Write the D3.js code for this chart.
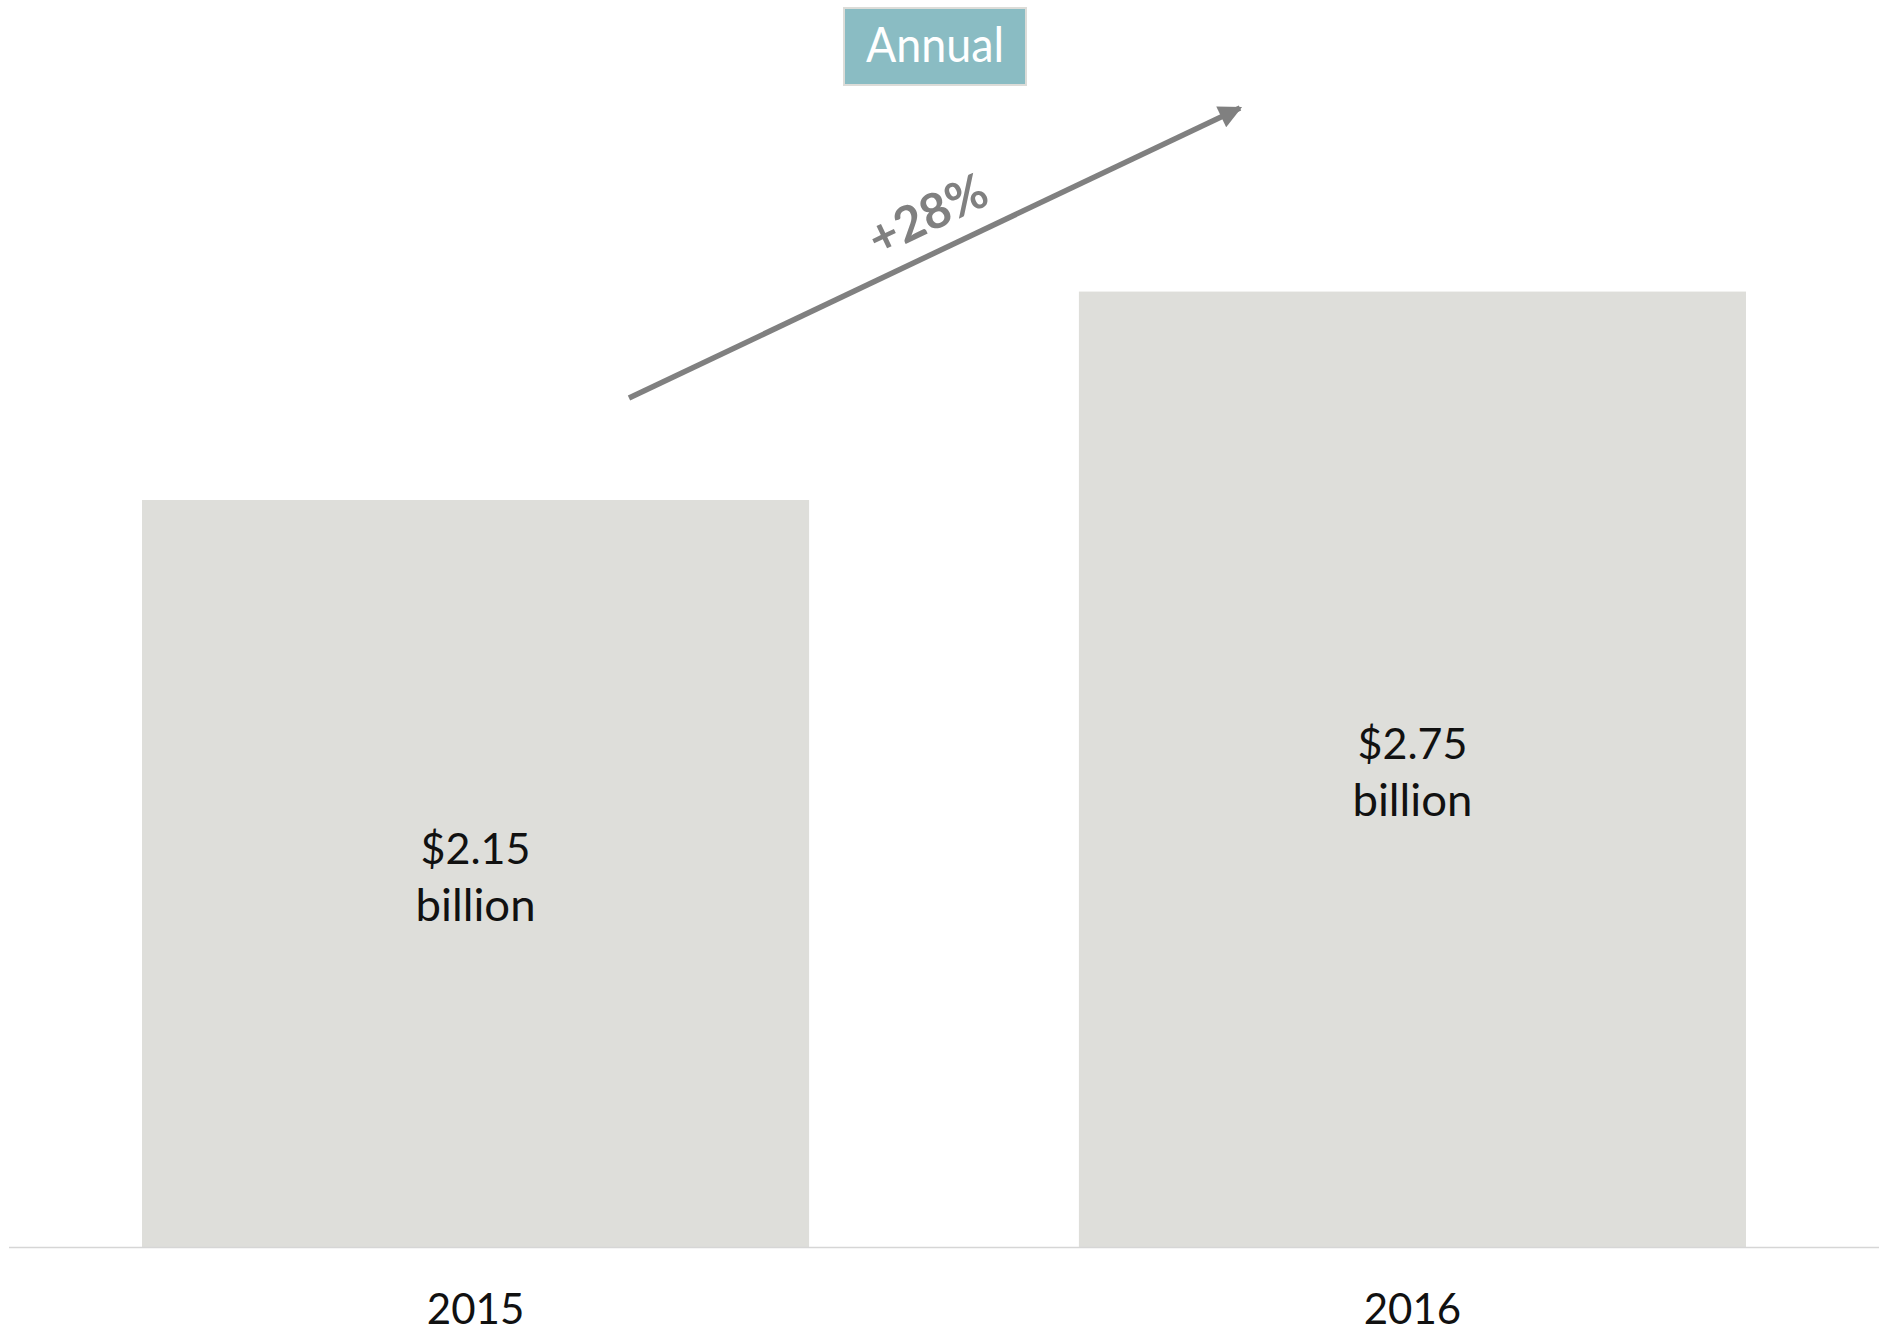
<!DOCTYPE html>
<html>
<head>
<meta charset="utf-8">
<script src="https://cdn.jsdelivr.net/npm/d3@7"></script>
<style>
  html, body { margin: 0; padding: 0; background: #ffffff; }
  svg { display: block; }
</style>
</head>
<body>
<svg id="chart" width="1886" height="1333"></svg>
<script>
// Annual totals, in billions of dollars
const years = ["2015", "2016"];
const values = [2.15, 2.75];
const valueLabels = ["$2.15", "$2.75"];
const unitLabel = "billion";
const growthLabel = "+28%";
const periodLabel = "Annual";

const W = 1886, H = 1333;
const svg = d3.select("#chart");

const x = d3.scaleBand()
  .domain(years)
  .range([142, 1746])
  .paddingInner(0.288)
  .paddingOuter(0);

const y = d3.scaleLinear()
  .domain([0, 3.5])
  .range([1247, 31]);

const data = years.map((yr, i) => ({ year: yr, value: values[i], label: valueLabels[i] }));

// Bars
svg.append("g").selectAll("rect")
  .data(data)
  .join("rect")
  .attr("x", d => x(d.year))
  .attr("y", d => y(d.value))
  .attr("width", x.bandwidth())
  .attr("height", d => y(0) - y(d.value))
  .attr("fill", "#dededa");

// Baseline
svg.append("line")
  .attr("x1", 9).attr("x2", 1879)
  .attr("y1", y(0) + 0.5).attr("y2", y(0) + 0.5)
  .attr("stroke", "#d6d6d6")
  .attr("stroke-width", 1.5);

// Value labels centred in each bar
const lbl = svg.append("g").selectAll("g")
  .data(data)
  .join("g")
  .attr("transform", d => `translate(${x(d.year) + x.bandwidth() / 2},${(y(d.value) + y(0)) / 2})`);

lbl.append("text")
  .attr("text-anchor", "middle")
  .attr("y", -10)
  .attr("font-family", "Lato, 'Open Sans', sans-serif")
  .attr("font-size", 43)
  .attr("fill", "#111111")
  .text(d => d.label);

lbl.append("text")
  .attr("text-anchor", "middle")
  .attr("y", 47)
  .attr("font-family", "Lato, 'Open Sans', sans-serif")
  .attr("font-size", 44)
  .attr("fill", "#111111")
  .attr("textLength", 120)
  .attr("lengthAdjust", "spacingAndGlyphs")
  .text(unitLabel);

// Category axis labels
svg.append("g").selectAll("text")
  .data(years)
  .join("text")
  .attr("x", d => x(d) + x.bandwidth() / 2)
  .attr("y", 1324)
  .attr("text-anchor", "middle")
  .attr("font-family", "Lato, 'Open Sans', sans-serif")
  .attr("font-size", 42)
  .attr("fill", "#111111")
  .text(d => d);

// Period tag
const tag = svg.append("g");
tag.append("rect")
  .attr("x", 844).attr("y", 8)
  .attr("width", 182).attr("height", 77)
  .attr("fill", "#8abcc3")
  .attr("stroke", "#dcdcd8")
  .attr("stroke-width", 2);
tag.append("text")
  .attr("x", 935).attr("y", 62)
  .attr("text-anchor", "middle")
  .attr("font-family", "Lato, 'Open Sans', sans-serif")
  .attr("font-size", 48)
  .attr("fill", "#ffffff")
  .attr("textLength", 138)
  .attr("lengthAdjust", "spacingAndGlyphs")
  .text(periodLabel);

// Growth arrow
const defs = svg.append("defs");
defs.append("marker")
  .attr("id", "arrowhead")
  .attr("viewBox", "0 0 10 10")
  .attr("refX", 9).attr("refY", 5)
  .attr("markerWidth", 5).attr("markerHeight", 4.2)
  .attr("markerUnits", "strokeWidth")
  .attr("orient", "auto")
  .append("path")
  .attr("d", "M0,0 L10,5 L0,10 Z")
  .attr("fill", "#808080");

const a0 = [629, 398], a1 = [1240, 108];
svg.append("line")
  .attr("x1", a0[0]).attr("y1", a0[1])
  .attr("x2", a1[0]).attr("y2", a1[1])
  .attr("stroke", "#808080")
  .attr("stroke-width", 5.5)
  .attr("marker-end", "url(#arrowhead)");

const ang = Math.atan2(a1[1] - a0[1], a1[0] - a0[0]) * 180 / Math.PI;
svg.append("text")
  .attr("transform", `translate(935,230) rotate(${ang})`)
  .attr("text-anchor", "middle")
  .attr("font-family", "Lato, 'Open Sans', sans-serif")
  .attr("font-weight", "bold")
  .attr("font-size", 49)
  .attr("fill", "#808080")
  .text(growthLabel);
</script>
</body>
</html>
